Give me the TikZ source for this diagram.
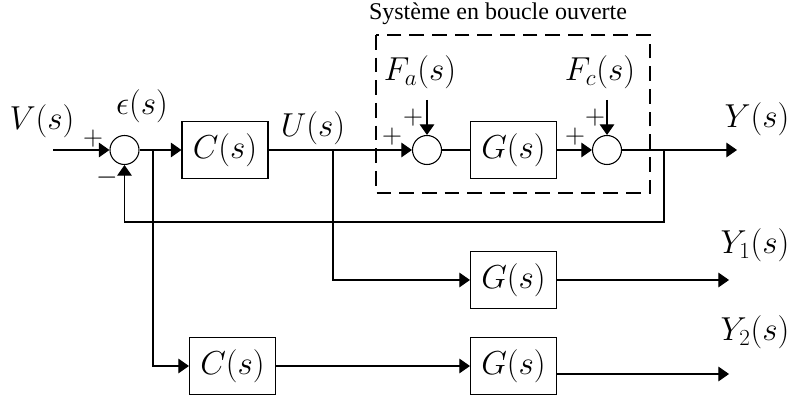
\documentclass[tikz,border=0pt]{standalone}
\usepackage{amsmath, amssymb}
\usepackage{fontspec}
\setmainfont{Liberation Serif}
\usetikzlibrary{arrows.meta}

\tikzset{
  bloc/.style={draw, minimum width=64.5pt, minimum height=43pt, inner sep=0pt, font=\fontsize{23.5}{28}\selectfont},
  somme/.style={draw, circle, minimum size=21.75pt, inner sep=0pt},
  lbl/.style={inner sep=0.75pt, font=\fontsize{23.5}{28}\selectfont},
  sgn/.style={inner sep=0.5pt, font=\fontsize{20}{24}\selectfont},
  fleche/.style={-{Triangle[length=8pt,width=11pt]}},
  ouvert/.style={dash pattern=on 11pt off 6pt},
}

\begin{document}
\begin{tikzpicture}[x=0.75pt,y=0.75pt,yscale=-1,xscale=1,line width=0.8pt]
\useasboundingbox (0,0) rectangle (791,398);

% Blocks
\node [somme] (s1) at (124.5,150) {};
\node [bloc] (c1) at (225,150) {$C(s)$};
\node [somme] (s2) at (427,150) {};
\node [bloc] (g1) at (513.5,150) {$G(s)$};
\node [somme] (s3) at (607,150) {};
\node [bloc] (g2) at (513.5,280) {$G(s)$};
\node [bloc] (c2) at (232.5,366) {$C(s)$};
\node [bloc] (g3) at (513.5,366) {$G(s)$};

% Points
\coordinate (in) at (53,150);
\coordinate (b1) at (153,150);
\coordinate (b2) at (333,150);
\coordinate (b3) at (664,150);
\coordinate (fb) at (0,222);
\coordinate (yout) at (737,150);
\coordinate (y1out) at (729,280);
\coordinate (y2out) at (729,374);
\coordinate (fa) at (427,100);
\coordinate (fc) at (607,100);

%Straight Lines
\draw [fleche] (in) -- (s1);
\draw [fleche] (s1) -- (c1);
\draw [fleche] (c1) -- (s2);
\draw (s2) -- (g1);
\draw [fleche] (g1) -- (s3);
\draw [fleche] (s3) -- (yout);
\draw [fleche] (fa) -- (s2);
\draw [fleche] (fc) -- (s3);
%Feedback
\draw [fleche] (b3) -- (b3 |- fb) -| (s1);
%Branches
\draw [fleche] (b2) |- (g2);
\draw [fleche] (g2) -- (y1out);
\draw [fleche] (b1) |- (c2);
\draw [fleche] (c2) -- (g3);
\draw [fleche] (g3.east |- y2out) -- (y2out);

%Open loop frame
\draw [ouvert] (376,35) rectangle (650,193);

% Text Node
\node [font=\fontsize{18}{22}\selectfont] (titre) at (498,14) {Système en boucle ouverte};
% Text Node
\node [lbl] (v) at (42,121) {$V(s)$};
% Text Node
\node [lbl] (eps) at (142,106) {$\epsilon(s)$};
% Text Node
\node [lbl] (u) at (313,128) {$U(s)$};
% Text Node
\node [lbl] (y) at (757,119) {$Y(s)$};
% Text Node
\node [lbl] (fal) at (420,72) {$F_a(s)$};
% Text Node
\node [lbl] (fcl) at (600,72) {$F_c(s)$};
% Text Node
\node [lbl] (y1) at (755,245) {$Y_1(s)$};
% Text Node
\node [lbl] (y2) at (755,332) {$Y_2(s)$};

% Signs
\node [sgn] (p1) at (93,139) {$+$};
\node [sgn] (m1) at (107,178) {$-$};
\node [sgn] (p2a) at (392,137) {$+$};
\node [sgn] (p2b) at (413,118) {$+$};
\node [sgn] (p3a) at (575,137) {$+$};
\node [sgn] (p3b) at (595,118) {$+$};

\end{tikzpicture}
\end{document}
